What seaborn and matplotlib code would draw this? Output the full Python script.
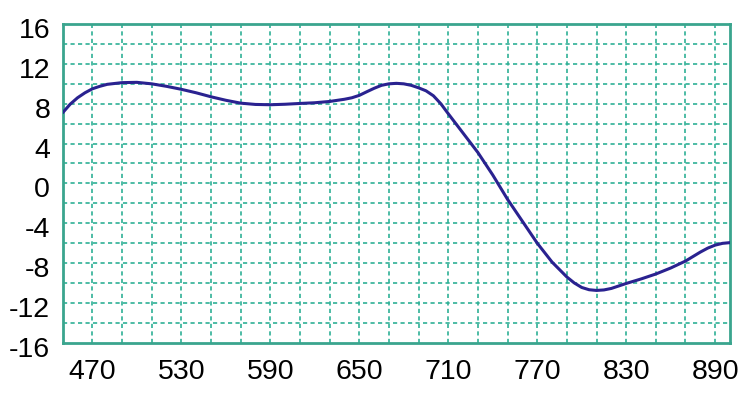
import matplotlib
matplotlib.use("Agg")
import matplotlib.pyplot as plt
import matplotlib.transforms as mtransforms
import seaborn as sns
import pandas as pd

wavelength = [450, 455, 460, 465, 470, 475, 480, 490, 500, 510, 520, 530, 540, 550, 560, 570,
              580, 590, 600, 610, 620, 630, 640, 645, 650, 655, 660, 665, 670, 675, 680, 685,
              690, 695, 700, 705, 710, 720, 730, 740, 750, 760, 770, 780, 790, 795, 800, 805,
              810, 815, 820, 825, 830, 840, 850, 860, 870, 880, 885, 890, 895, 900]
value = [7.1, 7.95, 8.6, 9.1, 9.5, 9.75, 9.95, 10.12, 10.15, 10.0, 9.75, 9.45, 9.1, 8.7, 8.35, 8.06,
         7.93, 7.9, 7.95, 8.03, 8.1, 8.23, 8.45, 8.6, 8.84, 9.2, 9.55, 9.85, 10.0, 10.05, 10.0, 9.85,
         9.6, 9.3, 8.8, 8.0, 7.0, 5.05, 3.1, 0.85, -1.6, -3.8, -6.0, -7.9, -9.4, -10.0, -10.45, -10.68,
         -10.75, -10.7, -10.55, -10.3, -10.05, -9.6, -9.1, -8.5, -7.8, -6.9, -6.5, -6.2, -6.02, -5.95]
x_ticks = [470, 530, 590, 650, 710, 770, 830, 890]
y_ticks = [16, 12, 8, 4, 0, -4, -8, -12, -16]

df = pd.DataFrame({"x": wavelength, "y": value})

sns.set_style("white")
plt.rcParams["font.family"] = ["Liberation Sans", "DejaVu Sans"]

fig = plt.figure(figsize=(7.51, 3.95), dpi=100)
ax = fig.add_axes([0.0835, 0.1324, 0.972 - 0.0835, 0.939 - 0.1324])

grid_c = "#2fb096"
for gx in range(450, 900, 20):
    ax.axvline(gx, color=grid_c, lw=1.2, ls=(0, (2.5, 2)), zorder=1)
for gy in range(-14, 16, 2):
    ax.axhline(gy, color=grid_c, lw=1.2, ls=(0, (2.5, 2)), zorder=1)

sns.lineplot(data=df, x="x", y="y", ax=ax, color="#2a2290", lw=2.2, zorder=3)

ax.set_xlim(450, 900)
ax.set_ylim(-16, 16)
ax.set_xticks(x_ticks)
ax.set_xticklabels([str(t) for t in x_ticks])
ax.set_yticks(y_ticks)
ax.set_yticklabels([str(t) for t in y_ticks])
ax.tick_params(axis="both", length=0, labelsize=20.5, colors="black")
ax.tick_params(axis="x", pad=12)
ax.tick_params(axis="y", pad=9)
ax.set_xlabel("")
ax.set_ylabel("")
for s in ax.spines.values():
    s.set_color("#3aa58e")
    s.set_linewidth(2)

off = mtransforms.ScaledTranslation(0, -4 / 100, fig.dpi_scale_trans)
for lab in ax.get_yticklabels():
    lab.set_transform(lab.get_transform() + off)

fig.savefig("out.png", dpi=100)
